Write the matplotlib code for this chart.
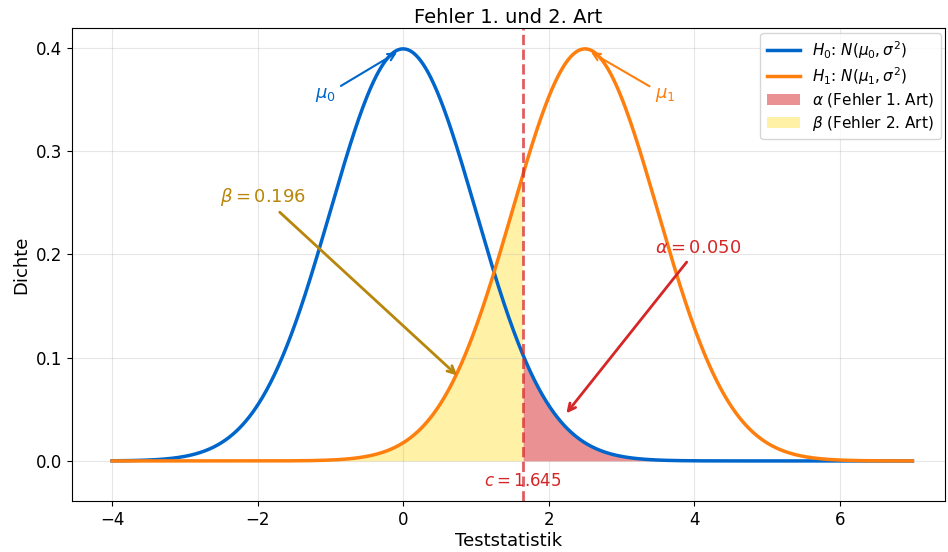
import numpy as np
import matplotlib.pyplot as plt

# Parameter der beiden Hypothesen
mu0 = 0.0
mu1 = 2.5
sigma = 1.0
c = 1.645
alpha_val = 0.050
beta_val = 0.196
x_range = [-4, 7]

def npdf(x, mu, s):
    return np.exp(-0.5 * ((x - mu) / s) ** 2) / (s * np.sqrt(2 * np.pi))

x = np.linspace(x_range[0], x_range[1], 1000)
y0 = npdf(x, mu0, sigma)
y1 = npdf(x, mu1, sigma)

fig, ax = plt.subplots(figsize=(9.48, 5.52), dpi=100)
fig.subplots_adjust(left=0.076, right=0.997, top=0.949, bottom=0.092)

ax.plot(x, y0, color='#0066cc', linewidth=2.5, label=r'$H_0$: $N(\mu_0, \sigma^2)$')
ax.plot(x, y1, color='#ff7f0e', linewidth=2.5, label=r'$H_1$: $N(\mu_1, \sigma^2)$')

# Fehlerflaechen
ax.fill_between(x, 0, y0, where=(x >= c), color='#d62728', alpha=0.5, linewidth=0,
                label=r'$\alpha$ (Fehler 1. Art)')
ax.fill_between(x, 0, y1, where=(x <= c), color='#ffd700', alpha=0.35, linewidth=0,
                label=r'$\beta$ (Fehler 2. Art)')

ax.axvline(c, color='#d62728', linestyle='--', linewidth=2, alpha=0.75)
ax.text(c, -0.019, f'$c = {c}$', color='#d62728', fontsize=12, ha='center', va='center')

# Annotationen
ax.annotate(r'$\mu_0$', xy=(-0.05, 0.397), xytext=(-1.07, 0.354), color='#0066cc',
            fontsize=13, ha='center', va='center',
            arrowprops=dict(arrowstyle='->', color='#0066cc', lw=1.5))
ax.annotate(r'$\mu_1$', xy=(2.55, 0.397), xytext=(3.6, 0.354), color='#ff7f0e',
            fontsize=13, ha='center', va='center',
            arrowprops=dict(arrowstyle='->', color='#ff7f0e', lw=1.5))
ax.annotate(rf'$\beta = {beta_val:.3f}$', xy=(0.77, 0.081), xytext=(-1.93, 0.256),
            color='#b8860b', fontsize=13, ha='center', va='center',
            arrowprops=dict(arrowstyle='->', color='#b8860b', lw=2))
ax.annotate(rf'$\alpha = {alpha_val:.3f}$', xy=(2.22, 0.044), xytext=(4.05, 0.206),
            color='#d62728', fontsize=13, ha='center', va='center',
            arrowprops=dict(arrowstyle='->', color='#d62728', lw=2))

ax.set_xlim(-4.55, 7.45)
ax.set_ylim(-0.039, 0.419)
ax.set_xlabel('Teststatistik', fontsize=13, labelpad=2)
ax.set_ylabel('Dichte', fontsize=13)
ax.set_title('Fehler 1. und 2. Art', fontsize=14, pad=4)
ax.tick_params(labelsize=12)
ax.grid(True, alpha=0.3)
ax.legend(loc='upper right', fontsize=11, labelspacing=0.3, handlelength=2.2,
          borderaxespad=0.3)

plt.savefig('out.png')
